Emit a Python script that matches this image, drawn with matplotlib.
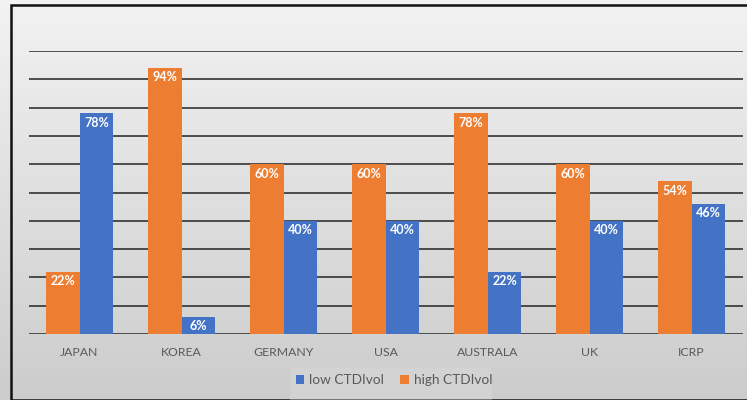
import matplotlib
matplotlib.use("Agg")
import matplotlib.pyplot as plt
import numpy as np
from matplotlib.patches import Rectangle

categories = ["JAPAN", "KOREA", "GERMANY", "USA", "AUSTRALA", "UK", "ICRP"]
high_ctdi = [22, 94, 60, 60, 78, 60, 54]
low_ctdi = [78, 6, 40, 40, 22, 40, 46]

W, H = 747, 400
fig = plt.figure(figsize=(W / 100, H / 100), dpi=100)
plt.rcParams['font.family'] = ['Lato', 'DejaVu Sans']

# background gradient
bg = fig.add_axes([0, 0, 1, 1], zorder=0)
grad = np.linspace(0, 1, 256)[:, None]
top = np.array([0.95, 0.95, 0.95])
bot = np.array([0.80, 0.80, 0.80])
img = top[None, None, :] * (1 - grad[:, :, None]) + bot[None, None, :] * grad[:, :, None]
bg.imshow(img, aspect='auto', extent=[0, 1, 0, 1], origin='upper')
bg.set_xlim(0, 1); bg.set_ylim(0, 1)
bg.axis('off')
# border
bg.add_patch(Rectangle((11 / W, 0.5 / H), (W - 10) / W, (H - 5) / H,
                       fill=False, edgecolor='#111111', lw=1.8, transform=bg.transAxes))
# legend box region
bg.add_patch(Rectangle((290 / W, 0), 202 / W, 32 / H, facecolor='#dedede',
                       edgecolor='none', alpha=0.35, transform=bg.transAxes))

left, right = 28.5, 742.5
ytop, ybot = 51, 334
ax = fig.add_axes([left / W, 1 - ybot / H, (right - left) / W, (ybot - ytop) / H], zorder=1)
ax.patch.set_alpha(0)

orange = '#ED7D31'
blue = '#4472C4'
x = np.arange(len(categories))
bw = 0.333
b1 = ax.bar(x - bw / 2, high_ctdi, bw, color=orange, zorder=3, label='high CTDIvol')
b2 = ax.bar(x + bw / 2, low_ctdi, bw, color=blue, zorder=3, label='low CTDIvol')

for bars, vals in ((b1, high_ctdi), (b2, low_ctdi)):
    for b, v in zip(bars, vals):
        ax.annotate(f"{v}%", (b.get_x() + b.get_width() / 2, v), xytext=(0, -2.5),
                    textcoords='offset points', ha='center', va='top',
                    color='white', fontsize=9, fontweight='bold', zorder=4)

ax.set_xlim(-0.5, len(categories) - 0.5)
ax.set_ylim(0, 100)
ax.set_yticks(np.arange(0, 101, 10))
ax.yaxis.grid(True, color='#333333', lw=1.2, zorder=1)
ax.set_axisbelow(True)
ax.tick_params(axis='y', left=False, labelleft=False)
ax.tick_params(axis='x', bottom=False, labelsize=8.8, colors='#595959', pad=6)
ax.set_xticks(x)
ax.set_xticklabels(categories)
for s in ax.spines.values():
    s.set_visible(False)

h, l = ax.get_legend_handles_labels()
fig.legend([h[1], h[0]], [l[1], l[0]], loc='center', bbox_to_anchor=(394 / W, 1 - 380 / H),
           ncol=2, frameon=False, fontsize=9.8, handlelength=0.6, handleheight=0.6,
           columnspacing=1.2, handletextpad=0.4, labelcolor='#595959')

fig.savefig('out.png', dpi=100)
